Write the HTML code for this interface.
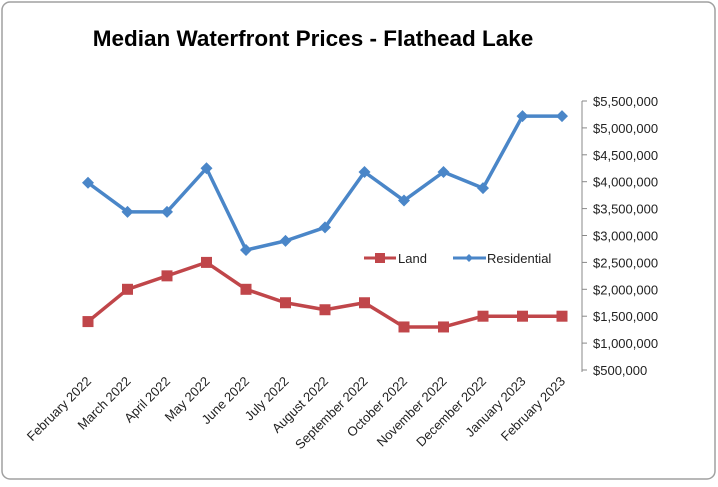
<!DOCTYPE html>
<html><head><meta charset="utf-8"><style>
body{margin:0;background:#fff;}
svg text{font-family:"Liberation Sans",sans-serif;}
</style></head><body>
<svg width="718" height="482">
<rect x="2" y="2" width="713" height="477" rx="8" fill="#fff" stroke="#a0a0a0" stroke-width="1.5"/>
<text x="313" y="46" text-anchor="middle" font-size="22.5" font-weight="bold" fill="#000">Median Waterfront Prices - Flathead Lake</text>
<g id="plot"></g>
</svg>
<script>
const categories=["February 2022","March 2022","April 2022","May 2022","June 2022","July 2022","August 2022","September 2022","October 2022","November 2022","December 2022","January 2023","February 2023"];
const residential=[3980000,3440000,3440000,4250000,2730000,2900000,3150000,4180000,3650000,4180000,3880000,5220000,5220000];
const land=[1400000,2000000,2250000,2500000,2000000,1750000,1620000,1750000,1300000,1300000,1500000,1500000,1500000];
const yTicks=[500000,1000000,1500000,2000000,2500000,3000000,3500000,4000000,4500000,5000000,5500000];
const NS="http://www.w3.org/2000/svg";
const g=document.getElementById('plot');
const x=i=>88+i*39.5;
const y=v=>370-(v-500000)/5000000*269;
function mk(t,a,p){const e=document.createElementNS(NS,t);for(const k in a)e.setAttribute(k,a[k]);(p||g).appendChild(e);return e;}
const ax=mk('line',{x1:582,y1:101,x2:582,y2:372,stroke:'#888','stroke-width':1});


yTicks.forEach(v=>{
 mk('line',{x1:582,y1:y(v),x2:587,y2:y(v),stroke:'#888'});
 const t=mk('text',{x:593,y:y(v)+5,'font-size':13,fill:'#222'});
 t.textContent='$'+v.toLocaleString('en-US');
 
 
});
categories.forEach((c,i)=>{
 const t=mk('text',{x:x(i)+4,y:382,'font-size':13,fill:'#222','text-anchor':'end',transform:`rotate(-45 ${x(i)+4} 382)`});
 t.textContent=c;
 
 
});
function series(vals,color,name,marker){
 const l=mk('polyline',{points:vals.map((v,i)=>x(i)+','+y(v)).join(' '),fill:'none',stroke:color,'stroke-width':3.5,'stroke-linejoin':'round'});
 
 
 vals.forEach((v,i)=>{
  let m;
  if(marker==='sq') m=mk('rect',{x:x(i)-5.5,y:y(v)-5.5,width:11,height:11,fill:color});
  else m=mk('polygon',{points:`${x(i)},${y(v)-6} ${x(i)+6},${y(v)} ${x(i)},${y(v)+6} ${x(i)-6},${y(v)}`,fill:color});
  
  
 });
}
series(residential,'#4a86c8','residential','dia');
series(land,'#c0464a','land','sq');
const lg=mk('g',{});


mk('line',{x1:364,y1:258,x2:396,y2:258,stroke:'#c0464a','stroke-width':3},lg);
mk('rect',{x:375,y:253,width:10,height:10,fill:'#c0464a'},lg);
const t1=mk('text',{x:398,y:263,'font-size':13,fill:'#222'},lg);t1.textContent='Land';
mk('line',{x1:453,y1:258,x2:486,y2:258,stroke:'#4a86c8','stroke-width':3},lg);
mk('polygon',{points:'469,254 473,258 469,262 465,258',fill:'#4a86c8'},lg);
const t2=mk('text',{x:487,y:263,'font-size':13,fill:'#222'},lg);t2.textContent='Residential';
</script>
</body></html>
